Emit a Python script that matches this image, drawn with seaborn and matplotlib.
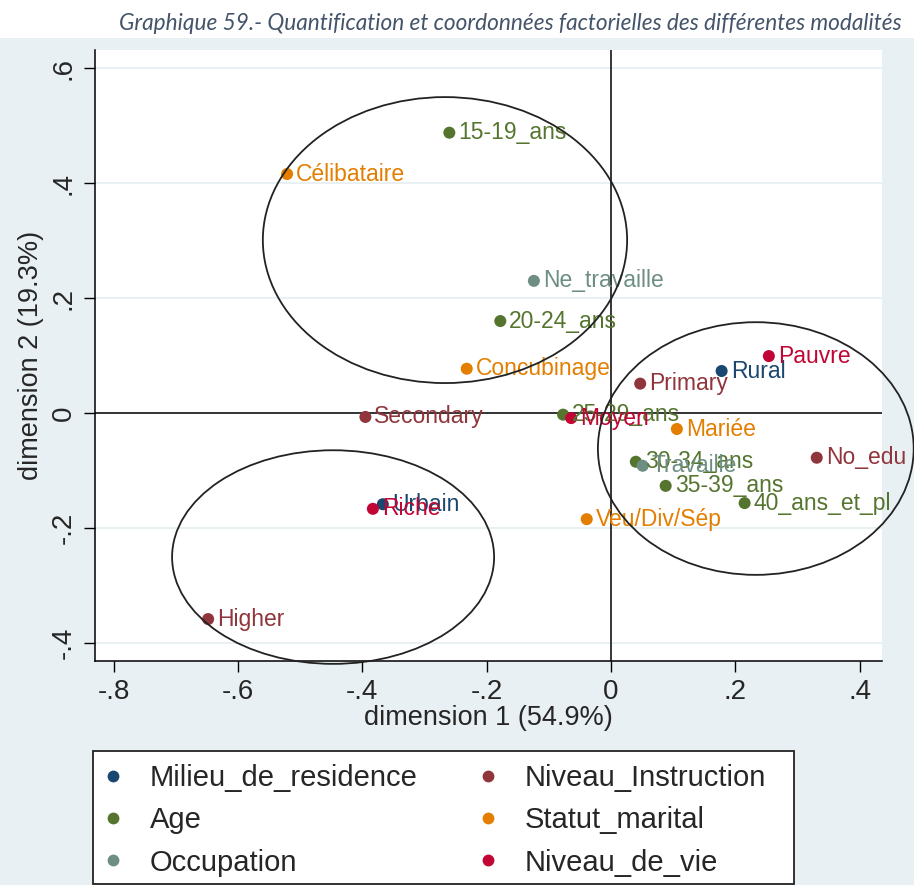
import pandas as pd
import matplotlib.pyplot as plt
import seaborn as sns
from matplotlib.patches import Ellipse, Rectangle
from matplotlib.lines import Line2D

# Coordonnees factorielles des modalites
groups = ['Milieu_de_residence', 'Niveau_Instruction', 'Age',
          'Statut_marital', 'Occupation', 'Niveau_de_vie']
colors = ['#1a476f', '#90353b', '#55752f', '#e37e00', '#6e8e84', '#c10534']

milieu = ['Urbain', 'Rural']
milieu_d1 = [-0.367, 0.178]
milieu_d2 = [-0.159, 0.073]

instruction = ['No_edu', 'Primary', 'Secondary', 'Higher']
instruction_d1 = [0.331, 0.047, -0.395, -0.648]
instruction_d2 = [-0.078, 0.051, -0.007, -0.359]

age = ['15-19_ans', '20-24_ans', '25-29_ans', '30-34_ans', '35-39_ans', '40_ans_et_pl']
age_d1 = [-0.260, -0.178, -0.077, 0.040, 0.088, 0.215]
age_d2 = [0.488, 0.160, -0.003, -0.085, -0.127, -0.157]

statut = ['Célibataire', 'Concubinage', 'Mariée', 'Veu/Div/Sép']
statut_d1 = [-0.521, -0.232, 0.106, -0.039]
statut_d2 = [0.416, 0.077, -0.028, -0.185]

occupation = ['Ne_travaille', 'Travaille']
occupation_d1 = [-0.124, 0.051]
occupation_d2 = [0.230, -0.092]

vie = ['Pauvre', 'Moyen', 'Riche']
vie_d1 = [0.254, -0.064, -0.383]
vie_d2 = [0.099, -0.009, -0.167]

# ellipses de regroupement: centre x, centre y, largeur, hauteur
ell_x = [-0.267, 0.233, -0.447]
ell_y = [0.301, -0.062, -0.251]
ell_w = [0.586, 0.508, 0.518]
ell_h = [0.498, 0.440, 0.372]

rows = []
for g, labs, d1, d2 in zip(groups,
                           [milieu, instruction, age, statut, occupation, vie],
                           [milieu_d1, instruction_d1, age_d1, statut_d1, occupation_d1, vie_d1],
                           [milieu_d2, instruction_d2, age_d2, statut_d2, occupation_d2, vie_d2]):
    for l, a, b in zip(labs, d1, d2):
        rows.append({'groupe': g, 'modalite': l, 'dim1': a, 'dim2': b})
df = pd.DataFrame(rows)
palette = dict(zip(groups, colors))

sns.set_style('white')
plt.rcParams['font.family'] = ['Liberation Sans', 'DejaVu Sans']

bg = '#e8f0f3'
fig = plt.figure(figsize=(9.14, 8.85), dpi=100, facecolor=bg)
fig.patches.append(Rectangle((0, 1 - 38 / 885), 1, 38 / 885, transform=fig.transFigure,
                             facecolor='white', edgecolor='none', zorder=0))
ax = fig.add_axes([95 / 914, 1 - 661 / 885, (882 - 95) / 914, (661 - 50) / 885])
ax.set_facecolor('white')

sns.scatterplot(data=df, x='dim1', y='dim2', hue='groupe', palette=palette,
                s=75, edgecolor='none', legend=False, ax=ax, zorder=3)

for _, r in df.iterrows():
    ax.annotate(r['modalite'], (r['dim1'], r['dim2']), xytext=(6.5, 0),
                textcoords='offset points', va='center', ha='left',
                fontsize=16.5, color=palette[r['groupe']], zorder=4)

for cx, cy, w, h in zip(ell_x, ell_y, ell_w, ell_h):
    ax.add_patch(Ellipse((cx, cy), w, h, facecolor='none', edgecolor='#222222',
                         lw=1.3, clip_on=False, zorder=5))

ax.axhline(0, color='black', lw=1.1, zorder=2)
ax.axvline(0, color='black', lw=1.1, zorder=2)

ax.set_xlim(-0.830, 0.436)
ax.set_ylim(-0.432, 0.632)
ax.set_xticks([-0.8, -0.6, -0.4, -0.2, 0, 0.2, 0.4])
ax.set_xticklabels(['-.8', '-.6', '-.4', '-.2', '0', '.2', '.4'])
ax.set_yticks([-0.4, -0.2, 0, 0.2, 0.4, 0.6])
ax.set_yticklabels(['-.4', '-.2', '0', '.2', '.4', '.6'], rotation=90, va='center')
ax.yaxis.grid(True, color='#e4eef2', lw=1.2)
ax.set_axisbelow(True)
ax.tick_params(axis='both', which='major', direction='out', length=8, width=1,
               color='black', labelsize=20, pad=5, left=True, bottom=True)
for side in ['top', 'right']:
    ax.spines[side].set_visible(False)
for side in ['left', 'bottom']:
    ax.spines[side].set_color('black')
    ax.spines[side].set_linewidth(1.1)

ax.set_xlabel('dimension 1 (54.9%)', fontsize=19.5, labelpad=0)
ax.set_ylabel('dimension 2 (19.3%)', fontsize=19.5, labelpad=5)

# legende: cadre + deux colonnes
fig.patches.append(Rectangle((93 / 914, 1 - 884 / 885), (794 - 93) / 914, 133 / 885,
                             transform=fig.transFigure, facecolor='white',
                             edgecolor='#222222', lw=1.3, zorder=1))
handles = [Line2D([], [], marker='o', ls='none', markersize=8.5,
                  markerfacecolor=c, markeredgecolor='none') for c in colors]
for col, x0 in zip([0, 1], [98, 473]):
    leg = fig.legend(handles[col::2], groups[col::2], loc='upper left',
                     bbox_to_anchor=(x0 / 914, 1 - 764 / 885), fontsize=21,
                     frameon=False, handlelength=1.0, handletextpad=0.77,
                     labelspacing=0.49, borderpad=0, borderaxespad=0)
    leg.set_zorder(2)

fig.text(0.5585, 1 - 23 / 885,
         'Graphique 59.- Quantification et coordonnées factorielles des différentes modalités',
         ha='center', va='center', fontsize=16.3, style='italic', color='#44546a',
         family=['Lato', 'DejaVu Sans'])

fig.savefig('out.png', dpi=100, facecolor=bg)
